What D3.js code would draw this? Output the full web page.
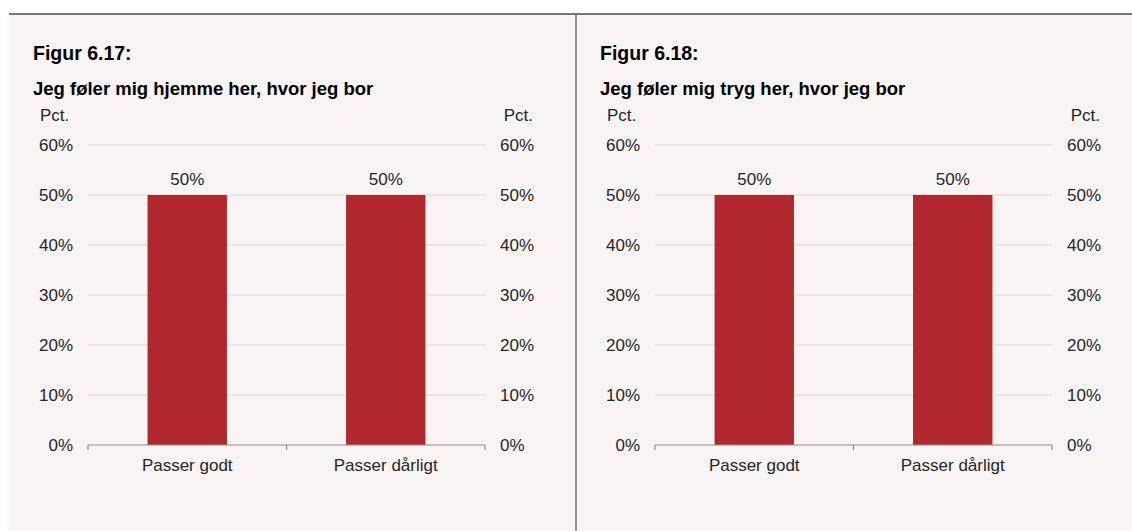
<!DOCTYPE html>
<html>
<head>
<meta charset="utf-8">
<script src="https://cdn.jsdelivr.net/npm/d3@7"></script>
<style>
  body { margin: 0; background: #fff; }
  svg { display: block; font-family: 'Liberation Sans', Arial, sans-serif; }
</style>
</head>
<body>
<svg id="chart" width="1132" height="531"></svg>
<script>
const colours = {
  bar: '#b0272e',
  grid: '#d9d9d9',
  axis: '#8c8c8c',
  text: '#262626',
  bg: '#f7f4f3',
  frame: '#777777',
};

const categories = ['Passer godt', 'Passer dårligt'];
const valuesHome = [50, 50];
const valuesSafe = [50, 50];
const yTicks = [0, 10, 20, 30, 40, 50, 60];

const panels = [
  { fig: 'Figur 6.17:', title: 'Jeg føler mig hjemme her, hvor jeg bor', values: valuesHome, x0: 88, x1: 485, tx: 33 },
  { fig: 'Figur 6.18:', title: 'Jeg føler mig tryg her, hvor jeg bor', values: valuesSafe, x0: 655, x1: 1052, tx: 600 },
];

const svg = d3.select('#chart');

// page background + frame lines
svg.append('rect').attr('x', 9).attr('y', 14).attr('width', 1123).attr('height', 517).attr('fill', colours.bg);
svg.append('line').attr('x1', 9).attr('x2', 1132).attr('y1', 14).attr('y2', 14)
  .attr('stroke', colours.frame).attr('stroke-width', 2);
svg.append('line').attr('x1', 576).attr('x2', 576).attr('y1', 14).attr('y2', 531)
  .attr('stroke', colours.frame).attr('stroke-width', 1.5);

const yScale = d3.scaleLinear().domain([0, 60]).range([445, 145]);
const fs = 17;

panels.forEach(p => {
  const g = svg.append('g');
  const xScale = d3.scaleBand().domain(categories).range([p.x0, p.x1]).paddingInner(0).paddingOuter(0);
  const barW = xScale.bandwidth() * 0.4;

  g.append('text').attr('x', p.tx).attr('y', 60).attr('font-size', 19.5).attr('font-weight', 'bold')
    .attr('fill', '#000').text(p.fig);
  g.append('text').attr('x', p.tx).attr('y', 95).attr('font-size', 18.5).attr('font-weight', 'bold')
    .attr('fill', '#000').text(p.title);

  // gridlines
  g.selectAll('.grid').data(yTicks.filter(d => d > 0)).enter().append('line')
    .attr('x1', p.x0).attr('x2', p.x1)
    .attr('y1', d => yScale(d)).attr('y2', d => yScale(d))
    .attr('stroke', colours.grid).attr('stroke-width', 1.2);

  // left and right tick labels
  g.selectAll('.yl').data(yTicks).enter().append('text')
    .attr('x', p.x0 - 15).attr('y', d => yScale(d) + 6)
    .attr('text-anchor', 'end').attr('font-size', fs).attr('fill', colours.text)
    .text(d => d + '%');
  g.selectAll('.yr').data(yTicks).enter().append('text')
    .attr('x', p.x1 + 15).attr('y', d => yScale(d) + 6)
    .attr('text-anchor', 'start').attr('font-size', fs).attr('fill', colours.text)
    .text(d => d + '%');
  g.append('text').attr('x', p.x0 - 48).attr('y', 121).attr('font-size', fs).attr('fill', colours.text).text('Pct.');
  g.append('text').attr('x', p.x1 + 48).attr('y', 121).attr('text-anchor', 'end')
    .attr('font-size', fs).attr('fill', colours.text).text('Pct.');

  // bars
  g.selectAll('.bar').data(p.values).enter().append('rect')
    .attr('x', (d, i) => xScale(categories[i]) + (xScale.bandwidth() - barW) / 2)
    .attr('width', barW)
    .attr('y', d => yScale(d))
    .attr('height', d => yScale(0) - yScale(d))
    .attr('fill', colours.bar);

  g.selectAll('.val').data(p.values).enter().append('text')
    .attr('x', (d, i) => xScale(categories[i]) + xScale.bandwidth() / 2)
    .attr('y', d => yScale(d) - 10)
    .attr('text-anchor', 'middle').attr('font-size', fs).attr('fill', colours.text)
    .text(d => d + '%');

  // x axis
  const xAxis = g.append('g').attr('transform', `translate(0,${yScale(0)})`);
  xAxis.append('line').attr('x1', p.x0).attr('x2', p.x1).attr('stroke', colours.axis).attr('stroke-width', 1.2);
  const tickPos = [p.x0].concat(categories.map(c => xScale(c) + xScale.bandwidth()));
  xAxis.selectAll('.tk').data(tickPos).enter().append('line')
    .attr('x1', d => d).attr('x2', d => d).attr('y1', 0).attr('y2', 5)
    .attr('stroke', colours.axis).attr('stroke-width', 1.2);
  xAxis.selectAll('.cl').data(categories).enter().append('text')
    .attr('x', d => xScale(d) + xScale.bandwidth() / 2).attr('y', 26)
    .attr('text-anchor', 'middle').attr('font-size', fs).attr('fill', colours.text)
    .text(d => d);
});
</script>
</body>
</html>
